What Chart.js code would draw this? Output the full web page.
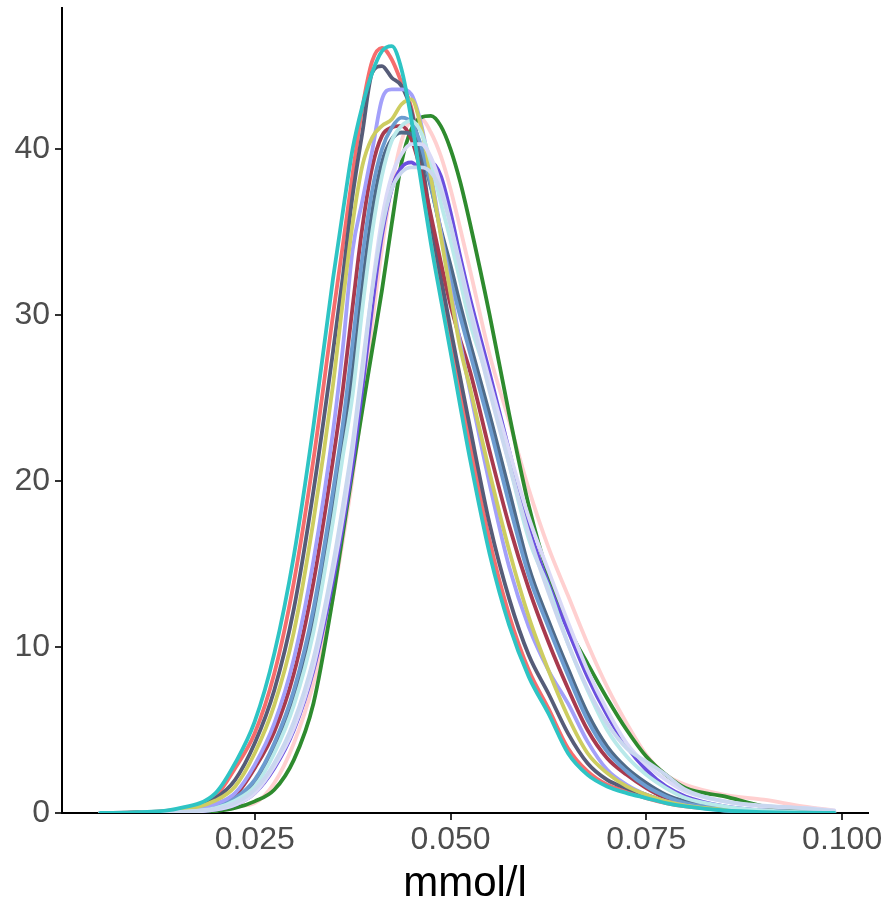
<!DOCTYPE html>
<html>
<head>
<meta charset="utf-8">
<script src="https://cdn.jsdelivr.net/npm/chart.js@4/dist/chart.umd.min.js"></script>
<style>
    body { margin: 0; background: #fff; }
</style>
</head>
<body>
<canvas id="densityChart" width="891" height="905"></canvas>
<script>
// x positions (mmol/l) shared by every density curve
const xGrid = [0.0053, 0.010, 0.015, 0.020, 0.0225, 0.025, 0.0275, 0.030, 0.0325, 0.035,
    0.03625, 0.0375, 0.03875, 0.040, 0.04125, 0.0425, 0.04375, 0.045, 0.04625, 0.0475,
    0.04875, 0.050, 0.05125, 0.0525, 0.055, 0.0575, 0.060, 0.0625, 0.065, 0.0675,
    0.070, 0.0725, 0.075, 0.0775, 0.080, 0.085, 0.090, 0.095, 0.099];

const xTicks = [0.025, 0.050, 0.075, 0.100];
const yTicks = [0, 10, 20, 30, 40];

// density values, one array per group
const cyan = [0, 0.05, 0.25, 1.2, 3.0, 5.5, 9.6, 15.5, 23.3, 32.2, 36.2, 40.0, 42.6, 44.6, 45.9, 46.2, 44.8, 41.8, 38.0, 34.3, 31.0, 27.8, 24.5, 21.3, 15.6, 11.3, 8.2, 6.0, 3.6, 2.3, 1.6, 1.2, 0.9, 0.6, 0.4, 0.15, 0.05, 0.02, 0];
const red = [0, 0.04, 0.2, 1.0, 2.7, 4.8, 8.4, 13.9, 21.3, 30.0, 34.2, 38.5, 42.5, 45.3, 46.1, 45.4, 44.0, 42.5, 39.2, 35.5, 32.0, 28.9, 25.5, 22.3, 16.4, 11.9, 8.6, 6.3, 3.9, 2.5, 1.7, 1.3, 0.9, 0.6, 0.4, 0.2, 0.08, 0.03, 0];
const darkSlate = [0, 0.03, 0.15, 0.9, 2.0, 4.2, 7.4, 12.3, 19.4, 27.8, 32.3, 37.2, 41.0, 44.6, 45.0, 44.3, 43.8, 42.3, 39.5, 35.7, 32.3, 29.2, 26.2, 23.2, 17.4, 12.9, 9.5, 7.2, 4.8, 3.0, 2.0, 1.5, 1.1, 0.7, 0.5, 0.2, 0.06, 0.02, 0];
const yellow = [0, 0.02, 0.12, 0.75, 1.6, 3.6, 6.5, 10.9, 17.6, 25.8, 30.8, 35.5, 39.0, 40.7, 41.4, 41.8, 42.7, 43.0, 41.3, 38.3, 34.8, 31.3, 28.0, 25.6, 20.5, 15.8, 11.8, 8.6, 5.8, 3.6, 2.4, 1.6, 1.1, 0.7, 0.45, 0.2, 0.07, 0.02, 0];
const periwinkle = [0, 0.02, 0.1, 0.55, 1.2, 2.9, 5.4, 9.3, 15.2, 23.0, 28.0, 33.9, 36.9, 39.9, 43.0, 43.6, 43.6, 43.3, 41.5, 38.5, 35.0, 31.5, 28.3, 25.4, 19.8, 14.8, 11.2, 8.6, 6.6, 4.3, 2.6, 1.7, 1.1, 0.7, 0.45, 0.15, 0.05, 0.02, 0];
const darkRed = [0, 0.02, 0.1, 0.5, 1.05, 2.7, 4.9, 8.4, 13.9, 21.3, 25.5, 30.5, 35.3, 38.9, 40.8, 41.3, 41.4, 40.6, 38.6, 36.0, 33.2, 30.6, 28.5, 26.6, 21.8, 17.3, 13.5, 10.3, 7.5, 5.0, 3.3, 2.3, 1.5, 0.9, 0.6, 0.25, 0.08, 0.03, 0];
const steel = [0, 0.01, 0.08, 0.4, 0.9, 2.0, 4.2, 7.4, 12.3, 19.4, 23.4, 28.3, 33.5, 37.5, 40.0, 41.3, 41.9, 41.6, 40.2, 37.8, 35.0, 32.2, 29.9, 27.7, 23.3, 18.6, 14.3, 11.2, 8.3, 5.6, 3.7, 2.5, 1.6, 1.0, 0.6, 0.25, 0.08, 0.03, 0];
const slateBlue = [0, 0.01, 0.07, 0.35, 0.8, 1.8, 3.8, 6.8, 11.5, 18.3, 22.4, 26.6, 31.8, 36.2, 39.2, 40.6, 41.0, 40.9, 39.8, 37.7, 35.2, 33.0, 30.6, 28.3, 24.0, 19.4, 14.8, 11.6, 8.7, 6.0, 4.0, 2.7, 1.8, 1.1, 0.7, 0.3, 0.1, 0.03, 0];
const lightCyan = [0, 0.01, 0.06, 0.3, 0.75, 1.6, 3.6, 6.5, 10.9, 17.6, 21.5, 25.2, 30.4, 35.0, 38.4, 40.5, 41.4, 41.7, 41.0, 39.2, 36.8, 34.5, 32.0, 29.5, 25.8, 21.0, 16.5, 13.6, 10.2, 7.4, 5.0, 3.4, 2.3, 1.5, 0.9, 0.4, 0.15, 0.05, 0];
const lavender = [0, 0.01, 0.05, 0.2, 0.5, 1.2, 2.8, 5.1, 8.8, 14.5, 17.8, 21.8, 26.4, 31.6, 35.8, 38.4, 39.7, 40.3, 40.3, 39.5, 37.8, 35.5, 33.0, 30.5, 26.0, 21.8, 17.8, 14.6, 11.5, 8.6, 6.2, 4.2, 2.9, 2.0, 1.3, 0.7, 0.4, 0.3, 0.15];
const purple = [0, 0.01, 0.04, 0.2, 0.5, 1.2, 2.7, 5.0, 8.6, 14.0, 17.3, 21.0, 25.6, 30.5, 34.8, 37.6, 38.9, 39.2, 38.8, 39.2, 38.4, 36.2, 33.5, 31.0, 26.5, 21.8, 17.2, 13.8, 11.0, 8.2, 5.9, 4.0, 2.6, 1.6, 1.0, 0.4, 0.15, 0.05, 0];
const alice = [0, 0.01, 0.05, 0.25, 0.6, 1.4, 3.0, 5.5, 9.3, 15.0, 18.5, 22.3, 27.0, 31.5, 35.2, 37.6, 38.6, 38.9, 38.9, 38.6, 37.5, 35.4, 32.8, 30.2, 25.4, 21.0, 16.8, 13.3, 10.2, 7.5, 5.4, 3.9, 3.1, 2.3, 1.4, 0.7, 0.45, 0.3, 0.1];
const pink = [0, 0.005, 0.03, 0.15, 0.4, 0.6, 1.8, 4.2, 7.8, 13.0, 16.4, 20.2, 24.6, 29.5, 34.0, 37.8, 40.5, 41.7, 41.8, 41.0, 39.6, 37.6, 35.2, 32.7, 27.6, 23.6, 19.5, 16.0, 13.1, 10.2, 7.6, 5.4, 3.5, 2.3, 1.7, 1.1, 0.8, 0.4, 0.15];
const green = [0, 0.005, 0.03, 0.12, 0.3, 0.7, 1.4, 3.2, 6.6, 13.0, 16.8, 20.6, 24.3, 27.9, 31.5, 35.5, 39.2, 41.2, 41.9, 42.0, 41.4, 40.0, 38.0, 35.5, 30.0, 24.0, 18.5, 14.3, 11.2, 9.0, 6.9, 5.0, 3.4, 2.3, 1.5, 1.0, 0.4, 0.15, 0.05];

// first entry is drawn on top
const groups = [
    { values: cyan, color: '#2EC4C4' },
    { values: alice, color: '#C9D7EF' },
    { values: lavender, color: '#D9D9F7' },
    { values: lightCyan, color: '#B9E9EA' },
    { values: yellow, color: '#CDCD60' },
    { values: periwinkle, color: '#A3A0FA' },
    { values: steel, color: '#6C9CD0' },
    { values: slateBlue, color: '#4F6A88' },
    { values: darkRed, color: '#A83A4E' },
    { values: darkSlate, color: '#565C78' },
    { values: red, color: '#F66D6D' },
    { values: purple, color: '#6B4FDF' },
    { values: green, color: '#2E8B2E' },
    { values: pink, color: '#FFD0D0' }
];

const tickFont = { family: 'Liberation Sans, Arial, sans-serif', size: 32 };

// keep the plot box where the reference has it
function noScalePadding(scale) {
    scale.paddingTop = 0;
    scale.paddingBottom = 0;
    scale.paddingLeft = 0;
    scale.paddingRight = 0;
}

const ctx = document.getElementById('densityChart').getContext('2d');

new Chart(ctx, {
    type: 'line',
    data: {
        datasets: groups.map(g => ({
            data: xGrid.map((x, i) => ({ x: x, y: g.values[i] })),
            borderColor: g.color,
            borderWidth: 3.8,
            pointRadius: 0,
            fill: false,
            cubicInterpolationMode: 'monotone',
            borderJoinStyle: 'round',
            borderCapStyle: 'round'
        }))
    },
    options: {
        responsive: false,
        devicePixelRatio: 1,
        animation: false,
        layout: { padding: { top: 8, right: 23, left: 0, bottom: 0 } },
        plugins: {
            legend: { display: false },
            tooltip: { enabled: false }
        },
        scales: {
            x: {
                type: 'linear',
                min: 0.0004,
                max: 0.1033,
                afterBuildTicks: scale => { scale.ticks = xTicks.map(v => ({ value: v })); },
                afterFit: scale => { scale.height = 92; noScalePadding(scale); },
                ticks: {
                    callback: v => v.toFixed(3),
                    color: '#4D4D4D',
                    font: tickFont,
                    padding: 1,
                    maxRotation: 0,
                    autoSkip: false
                },
                grid: { drawOnChartArea: false, drawTicks: true, tickLength: 7, color: '#333333', lineWidth: 2 },
                border: { display: true, color: '#000000', width: 2 },
                title: {
                    display: true,
                    text: 'mmol/l',
                    color: '#000000',
                    font: { family: 'Liberation Sans, Arial, sans-serif', size: 42 },
                    padding: { top: 0, bottom: -5 }
                }
            },
            y: {
                min: 0,
                max: 48.5,
                afterBuildTicks: scale => { scale.ticks = yTicks.map(v => ({ value: v })); },
                afterFit: scale => { scale.width = 62; noScalePadding(scale); },
                ticks: { color: '#4D4D4D', font: tickFont, padding: 5 },
                grid: { drawOnChartArea: false, drawTicks: true, tickLength: 7, color: '#333333', lineWidth: 2 },
                border: { display: true, color: '#000000', width: 2 }
            }
        }
    }
});
</script>
</body>
</html>
